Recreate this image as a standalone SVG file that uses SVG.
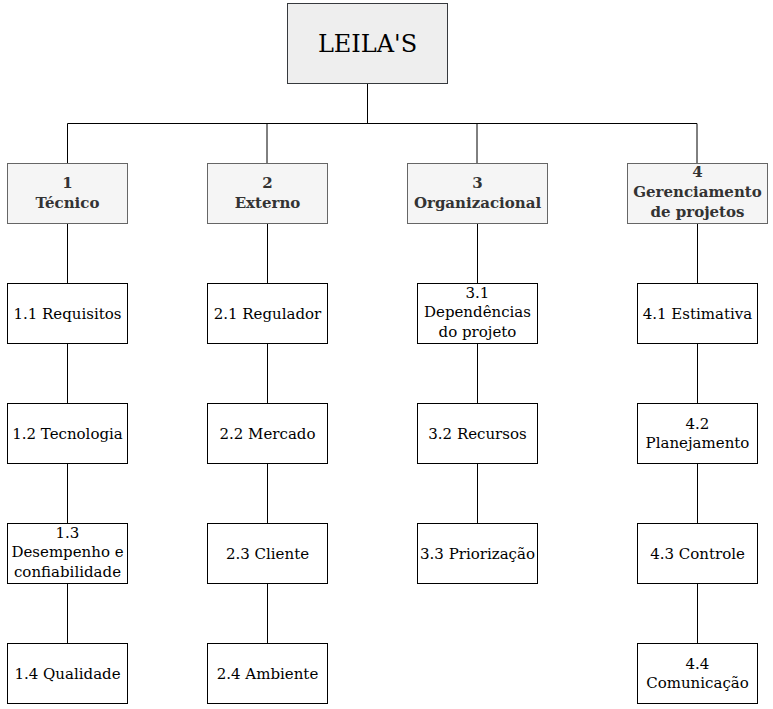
<svg xmlns="http://www.w3.org/2000/svg" width="773" height="709" viewBox="0 0 773 709">
<style>
.bg{fill:#ffffff}
.root{fill:#eeeeee;stroke:#36393d;stroke-width:1}
.l1{fill:#f5f5f5;stroke:#666666;stroke-width:1}
.l2{fill:#ffffff;stroke:#000000;stroke-width:1}
.c{fill:none;stroke:#000000;stroke-width:1}
text{font-family:"DejaVu Serif","Liberation Serif",serif;text-anchor:middle}
.t0{font-size:24px;fill:#000000}
.t1{font-size:15px;font-weight:bold;fill:#333333}
.t2{font-size:15px;fill:#000000}
</style>
<rect class="bg" x="0" y="0" width="773" height="709"/>
<g id="connectors">
<path class="c" d="M367.5 83.5V123.5M67.5 123.5H697M67.5 123.5V163.5"/>
<path class="c" d="M267 123.5V163.5M477 123.5V163.5M697 123.5V163.5"/>
<path class="c" d="M67.5 223.5V283.5M67.5 343.5V403.5M67.5 463.5V523.5M67.5 583.5V643.5"/>
<path class="c" d="M267.5 223.5V283.5M267.5 343.5V403.5M267.5 463.5V523.5M267.5 583.5V643.5"/>
<path class="c" d="M477.5 223.5V283.5M477.5 343.5V403.5M477.5 463.5V523.5"/>
<path class="c" d="M697.5 223.5V283.5M697.5 343.5V403.5M697.5 463.5V523.5M697.5 583.5V643.5"/>
</g>
<g id="root"><rect class="root" x="287.5" y="3.5" width="160" height="80"/><text class="t0" x="367.5" y="52">LEILA'S</text></g>
<g id="n1"><rect class="l1" x="7.5" y="163.5" width="120" height="60"/><text class="t1" x="67.5" y="188.3">1</text><text class="t1" x="67.5" y="208.3">Técnico</text></g>
<g id="n2"><rect class="l1" x="207.5" y="163.5" width="120" height="60"/><text class="t1" x="267.5" y="188.3">2</text><text class="t1" x="267.5" y="208.3">Externo</text></g>
<g id="n3"><rect class="l1" x="407.5" y="163.5" width="140" height="60"/><text class="t1" x="477.5" y="188.3">3</text><text class="t1" x="477.5" y="208.3">Organizacional</text></g>
<g id="n4"><rect class="l1" x="627.5" y="163.5" width="140" height="60"/><text class="t1" x="697.5" y="177.3">4</text><text class="t1" x="697.5" y="197.3">Gerenciamento</text><text class="t1" x="697.5" y="217.3">de projetos</text></g>
<g id="n11"><rect class="l2" x="7.5" y="283.5" width="120" height="60"/><text class="t2" x="67.5" y="318.7">1.1 Requisitos</text></g>
<g id="n12"><rect class="l2" x="7.5" y="403.5" width="120" height="60"/><text class="t2" x="67.5" y="438.7">1.2 Tecnologia</text></g>
<g id="n13"><rect class="l2" x="7.5" y="523.5" width="120" height="60"/><text class="t2" x="67.5" y="537.8">1.3</text><text class="t2" x="67.5" y="557.3">Desempenho e</text><text class="t2" x="67.5" y="576.8">confiabilidade</text></g>
<g id="n14"><rect class="l2" x="7.5" y="643.5" width="120" height="60"/><text class="t2" x="67.5" y="678.7">1.4 Qualidade</text></g>
<g id="n21"><rect class="l2" x="207.5" y="283.5" width="120" height="60"/><text class="t2" x="267.5" y="318.7">2.1 Regulador</text></g>
<g id="n22"><rect class="l2" x="207.5" y="403.5" width="120" height="60"/><text class="t2" x="267.5" y="438.7">2.2 Mercado</text></g>
<g id="n23"><rect class="l2" x="207.5" y="523.5" width="120" height="60"/><text class="t2" x="267.5" y="558.7">2.3 Cliente</text></g>
<g id="n24"><rect class="l2" x="207.5" y="643.5" width="120" height="60"/><text class="t2" x="267.5" y="678.7">2.4 Ambiente</text></g>
<g id="n31"><rect class="l2" x="417.5" y="283.5" width="120" height="60"/><text class="t2" x="477.5" y="297.8">3.1</text><text class="t2" x="477.5" y="317.3">Dependências</text><text class="t2" x="477.5" y="336.8">do projeto</text></g>
<g id="n32"><rect class="l2" x="417.5" y="403.5" width="120" height="60"/><text class="t2" x="477.5" y="438.7">3.2 Recursos</text></g>
<g id="n33"><rect class="l2" x="417.5" y="523.5" width="120" height="60"/><text class="t2" x="477.5" y="558.7">3.3 Priorização</text></g>
<g id="n41"><rect class="l2" x="637.5" y="283.5" width="120" height="60"/><text class="t2" x="697.5" y="318.7">4.1 Estimativa</text></g>
<g id="n42"><rect class="l2" x="637.5" y="403.5" width="120" height="60"/><text class="t2" x="697.5" y="429.2">4.2</text><text class="t2" x="697.5" y="448.2">Planejamento</text></g>
<g id="n43"><rect class="l2" x="637.5" y="523.5" width="120" height="60"/><text class="t2" x="697.5" y="558.7">4.3 Controle</text></g>
<g id="n44"><rect class="l2" x="637.5" y="643.5" width="120" height="60"/><text class="t2" x="697.5" y="669.2">4.4</text><text class="t2" x="697.5" y="688.2">Comunicação</text></g>
</svg>
